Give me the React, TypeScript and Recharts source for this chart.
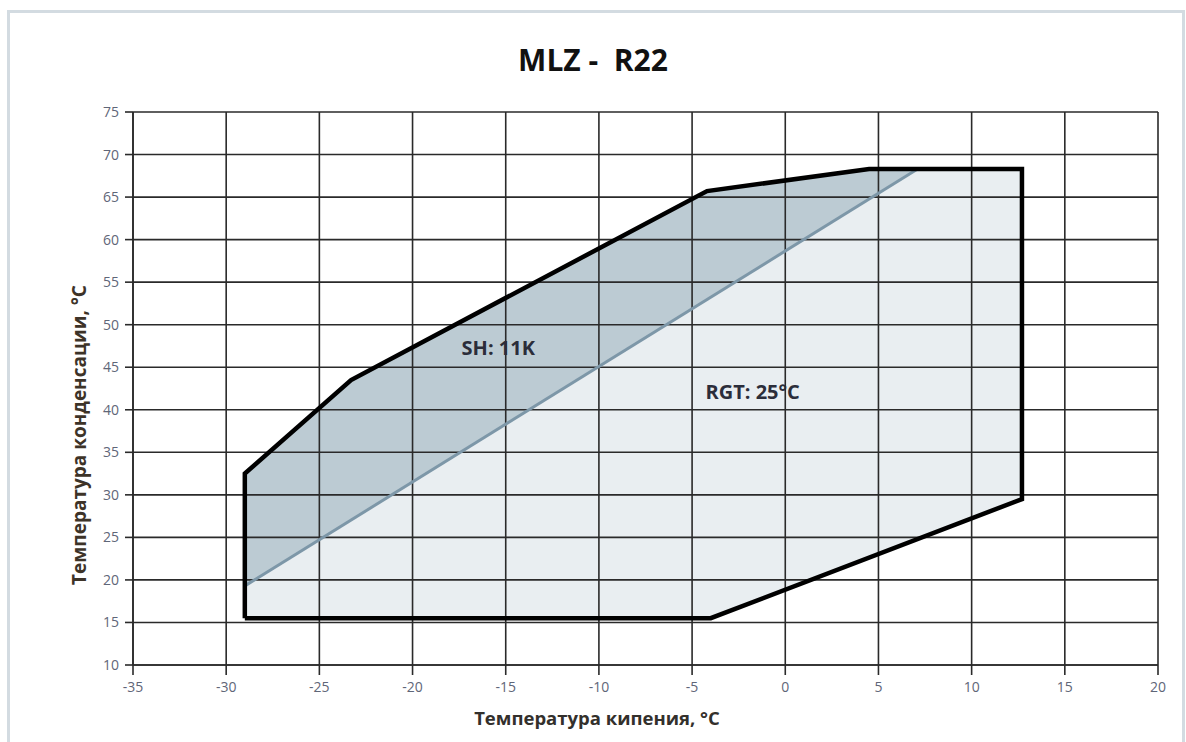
import { CartesianGrid, ReferenceDot, Scatter, ScatterChart, XAxis, YAxis } from "recharts";

type Pt = { x: number; y: number };

const xTicks = [-35, -30, -25, -20, -15, -10, -5, 0, 5, 10, 15, 20];
const yTicks = [10, 15, 20, 25, 30, 35, 40, 45, 50, 55, 60, 65, 70, 75];

// operating envelope, closed
const envelope: Pt[] = [
  { x: -29, y: 15.5 },
  { x: -4, y: 15.5 },
  { x: 12.7, y: 29.5 },
  { x: 12.7, y: 68.3 },
  { x: 4.5, y: 68.3 },
  { x: -4.2, y: 65.7 },
  { x: -23.3, y: 43.5 },
  { x: -29, y: 32.5 },
  { x: -29, y: 15.5 },
];

// SH 11K band (upper-left part)
const shBand: Pt[] = [
  { x: -29, y: 19.3 },
  { x: -29, y: 32.5 },
  { x: -23.3, y: 43.5 },
  { x: -4.2, y: 65.7 },
  { x: 4.5, y: 68.3 },
  { x: 7.1, y: 68.3 },
  { x: -29, y: 19.3 },
];

const rgtLine: Pt[] = [
  { x: -29, y: 19.3 },
  { x: 7.1, y: 68.3 },
];

const labels = [
  { x: -15.4, y: 47.3, text: "SH: 11K" },
  { x: -1.75, y: 42.1, text: "RGT: 25°C" },
];

const font = "'Open Sans', 'DejaVu Sans', sans-serif";
const tickStyle = { fontSize: 14, fill: "#5f6678", fontFamily: font };

const noDot = () => <g />;

export default function App() {
  return (
    <div style={{ position: "absolute", left: 0, top: 0, width: 1186, height: 742, background: "#fff", fontFamily: font }}>
      <div style={{ position: "absolute", left: 7, top: 10, width: 1172, height: 740, border: "3px solid #d3dbe1", borderBottom: "none" }} />
      <div style={{ position: "absolute", left: 0, top: 0 }}>
        <ScatterChart width={1186} height={742} margin={{ top: 112, right: 28, bottom: 0, left: 0 }}>
          <XAxis
            type="number"
            dataKey="x"
            domain={[-35, 20]}
            ticks={xTicks}
            interval={0}
            allowDataOverflow
            height={77}
            tickSize={10}
            tickMargin={7}
            tick={tickStyle}
            stroke="#2a2a2a"
            strokeWidth={1.6}
          />
          <YAxis
            type="number"
            dataKey="y"
            domain={[10, 75]}
            ticks={yTicks}
            interval={0}
            allowDataOverflow
            width={133}
            tickSize={8}
            tickMargin={6}
            tick={tickStyle}
            stroke="#2a2a2a"
            strokeWidth={1.6}
          />
          <Scatter data={envelope} shape={noDot} line={{ fill: "#e9eef1", stroke: "none" }} isAnimationActive={false} zIndex={100} />
          <Scatter data={shBand} shape={noDot} line={{ fill: "#bccbd3", stroke: "none" }} isAnimationActive={false} zIndex={100} />
          <CartesianGrid stroke="#2a2a2a" strokeWidth={1.6} horizontalValues={yTicks} verticalValues={xTicks} zIndex={150} />
          <Scatter data={rgtLine} shape={noDot} line={{ stroke: "#7d97a8", strokeWidth: 3, fill: "none" }} isAnimationActive={false} zIndex={300} />
          <Scatter
            data={envelope}
            shape={noDot}
            line={{ stroke: "#000", strokeWidth: 4.5, fill: "none", strokeLinejoin: "miter" }}
            isAnimationActive={false}
            zIndex={310}
          />
          {labels.map((l) => (
            <ReferenceDot
              key={l.text}
              x={l.x}
              y={l.y}
              r={0}
              fill="none"
              stroke="none"
              zIndex={400}
              label={{ value: l.text, position: "center", fontSize: 20, fontWeight: 700, fill: "#2b2d3a", fontFamily: font }}
            />
          ))}
        </ScatterChart>
      </div>
      <svg width={1186} height={742} style={{ position: "absolute", left: 0, top: 0, pointerEvents: "none" }}>
        <text x={593} y={71} textAnchor="middle" fontSize={30} fontWeight={700} fill="#111" fontFamily={font} style={{ whiteSpace: "pre" }}>
          {"MLZ -  R22"}
        </text>
        <text x={597} y={725} textAnchor="middle" fontSize={18.5} fontWeight={700} fill="#33302c" fontFamily={font}>
          Температура кипения, °C
        </text>
        <text
          x={0}
          y={0}
          transform="translate(86 435) rotate(-90)"
          textAnchor="middle"
          fontSize={19}
          fontWeight={700}
          fill="#3d3328"
          fontFamily={font}
        >
          Температура конденсации, °C
        </text>
      </svg>
    </div>
  );
}
